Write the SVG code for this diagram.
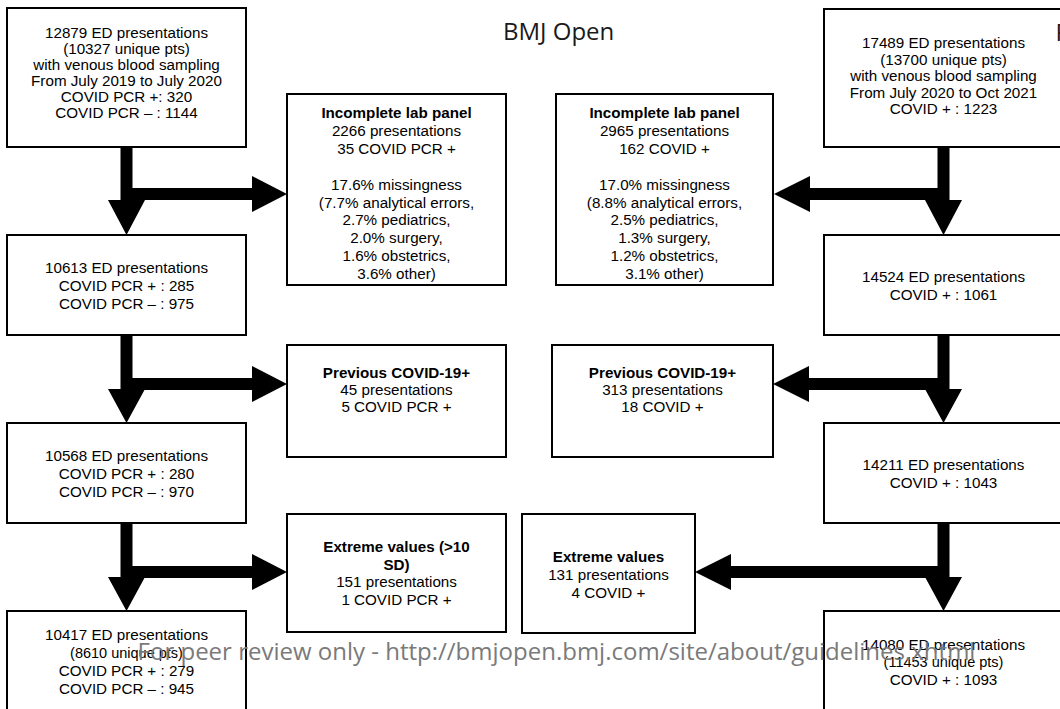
<svg xmlns="http://www.w3.org/2000/svg" width="1060" height="709" viewBox="0 0 1060 709">
<style>
.box{fill:#fff;stroke:#000;stroke-width:2}
.t{font-family:"Liberation Sans",Arial,sans-serif;font-size:15.2px;fill:#000;text-anchor:middle}
.b{font-weight:bold}
.s{font-size:14.5px}
.arr{fill:#000;stroke:none}
.hdr{font-family:"Open Sans","DejaVu Sans",sans-serif;font-size:24px;fill:#1a1a1a}
.wm{font-family:"Open Sans","DejaVu Sans",sans-serif;font-size:24px;fill:#7a7a7a;text-anchor:middle}
</style>
<rect width="1060" height="709" fill="#fff"/>

<g id="connectors">
  <!-- left column -->
  <polygon class="arr" points="120.5,147 132.5,147 132.5,188 252,188 252,176 287,194 252,212 252,200 132.5,200 145,200 126.5,235 108,200 120.5,200"/>
  <polygon class="arr" points="120.5,335 132.5,335 132.5,378 252,378 252,366 287,384 252,402 252,390 132.5,390 145,389 126.5,423 108,389 120.5,389"/>
  <polygon class="arr" points="120.5,523 132.5,523 132.5,566 252,566 252,554 287,572 252,590 252,578 132.5,578 145,577 126.5,611 108,577 120.5,577"/>
  <!-- right column -->
  <polygon class="arr" points="949.5,147 937.5,147 937.5,188 810,188 810,176 774,194 810,212 810,200 937.5,200 925,200 943.5,235 962,200 949.5,200"/>
  <polygon class="arr" points="949.5,335 937.5,335 937.5,378 809,378 809,366 773,384 809,402 809,390 937.5,390 925,389 943.5,423 962,389 949.5,389"/>
  <polygon class="arr" points="949.5,523 937.5,523 937.5,566 731,566 731,554 695,572 731,590 731,578 937.5,578 925,577 943.5,611 962,577 949.5,577"/>
</g>

<g id="L1">
  <rect class="box" x="7" y="8" width="239" height="139"/>
  <text class="t" x="126.5" y="38">12879 ED presentations</text>
  <text class="t" x="126.5" y="54">(10327 unique pts)</text>
  <text class="t" x="126.5" y="70">with venous blood sampling</text>
  <text class="t" x="126.5" y="86">From July 2019 to July 2020</text>
  <text class="t" x="126.5" y="102">COVID PCR +: 320</text>
  <text class="t" x="126.5" y="118">COVID PCR – : 1144</text>
</g>
<g id="L2">
  <rect class="box" x="7" y="235" width="239" height="100"/>
  <text class="t" x="126.5" y="273">10613 ED presentations</text>
  <text class="t" x="126.5" y="291">COVID PCR + : 285</text>
  <text class="t" x="126.5" y="309">COVID PCR – : 975</text>
</g>
<g id="L3">
  <rect class="box" x="7" y="423" width="239" height="100"/>
  <text class="t" x="126.5" y="461">10568 ED presentations</text>
  <text class="t" x="126.5" y="479">COVID PCR + : 280</text>
  <text class="t" x="126.5" y="497">COVID PCR – : 970</text>
</g>
<g id="L4">
  <rect class="box" x="7" y="611" width="239" height="120"/>
  <text class="t" x="126.5" y="640">10417 ED presentations</text>
  <text class="t s" x="126.5" y="658">(8610 unique pts)</text>
  <text class="t" x="126.5" y="676">COVID PCR + : 279</text>
  <text class="t" x="126.5" y="694">COVID PCR – : 945</text>
</g>

<g id="ML1">
  <rect class="box" x="287" y="94" width="219" height="191"/>
  <text class="t b" x="396.5" y="118">Incomplete lab panel</text>
  <text class="t" x="396.5" y="136">2266 presentations</text>
  <text class="t" x="396.5" y="154">35 COVID PCR +</text>
  <text class="t" x="396.5" y="190">17.6% missingness</text>
  <text class="t" x="396.5" y="208">(7.7% analytical errors,</text>
  <text class="t" x="396.5" y="225">2.7% pediatrics,</text>
  <text class="t" x="396.5" y="243">2.0% surgery,</text>
  <text class="t" x="396.5" y="261">1.6% obstetrics,</text>
  <text class="t" x="396.5" y="279">3.6% other)</text>
</g>
<g id="ML2">
  <rect class="box" x="287" y="345" width="219" height="112"/>
  <text class="t b" x="396.5" y="378">Previous COVID-19+</text>
  <text class="t" x="396.5" y="395">45 presentations</text>
  <text class="t" x="396.5" y="412">5 COVID PCR +</text>
</g>
<g id="ML3">
  <rect class="box" x="287" y="514" width="219" height="118"/>
  <text class="t b" x="396.5" y="552">Extreme values (&gt;10</text>
  <text class="t b" x="396.5" y="570">SD)</text>
  <text class="t" x="396.5" y="587">151 presentations</text>
  <text class="t" x="396.5" y="605">1 COVID PCR +</text>
</g>

<g id="MR1">
  <rect class="box" x="556" y="94" width="217" height="191"/>
  <text class="t b" x="664.5" y="118">Incomplete lab panel</text>
  <text class="t" x="664.5" y="136">2965 presentations</text>
  <text class="t" x="664.5" y="154">162 COVID +</text>
  <text class="t" x="664.5" y="190">17.0% missingness</text>
  <text class="t" x="664.5" y="208">(8.8% analytical errors,</text>
  <text class="t" x="664.5" y="225">2.5% pediatrics,</text>
  <text class="t" x="664.5" y="243">1.3% surgery,</text>
  <text class="t" x="664.5" y="261">1.2% obstetrics,</text>
  <text class="t" x="664.5" y="279">3.1% other)</text>
</g>
<g id="MR2">
  <rect class="box" x="552" y="345" width="221" height="112"/>
  <text class="t b" x="662.5" y="378">Previous COVID-19+</text>
  <text class="t" x="662.5" y="395">313 presentations</text>
  <text class="t" x="662.5" y="412">18 COVID +</text>
</g>
<g id="MR3">
  <rect class="box" x="522" y="514" width="173" height="119"/>
  <text class="t b" x="608.5" y="562">Extreme values</text>
  <text class="t" x="608.5" y="580">131 presentations</text>
  <text class="t" x="608.5" y="598">4 COVID +</text>
</g>

<g id="R1">
  <rect class="box" x="824" y="9" width="239" height="138"/>
  <text class="t" x="943.5" y="48">17489 ED presentations</text>
  <text class="t" x="943.5" y="65">(13700 unique pts)</text>
  <text class="t" x="943.5" y="81">with venous blood sampling</text>
  <text class="t" x="943.5" y="98">From July 2020 to Oct 2021</text>
  <text class="t" x="943.5" y="114">COVID + : 1223</text>
</g>
<g id="R2">
  <rect class="box" x="824" y="235" width="239" height="100"/>
  <text class="t" x="943.5" y="282">14524 ED presentations</text>
  <text class="t" x="943.5" y="300">COVID + : 1061</text>
</g>
<g id="R3">
  <rect class="box" x="824" y="423" width="239" height="100"/>
  <text class="t" x="943.5" y="470">14211 ED presentations</text>
  <text class="t" x="943.5" y="488">COVID + : 1043</text>
</g>
<g id="R4">
  <rect class="box" x="824" y="611" width="239" height="120"/>
  <text class="t" x="943.5" y="650">14080 ED presentations</text>
  <text class="t s" x="943.5" y="667">(11453 unique pts)</text>
  <text class="t" x="943.5" y="685">COVID + : 1093</text>
</g>

<text class="hdr" x="503" y="40">BMJ Open</text>
<text class="hdr" x="1055.5" y="41">P</text>
<text class="wm" x="556.5" y="660">For peer review only - http://bmjopen.bmj.com/site/about/guidelines.xhtml</text>
</svg>
